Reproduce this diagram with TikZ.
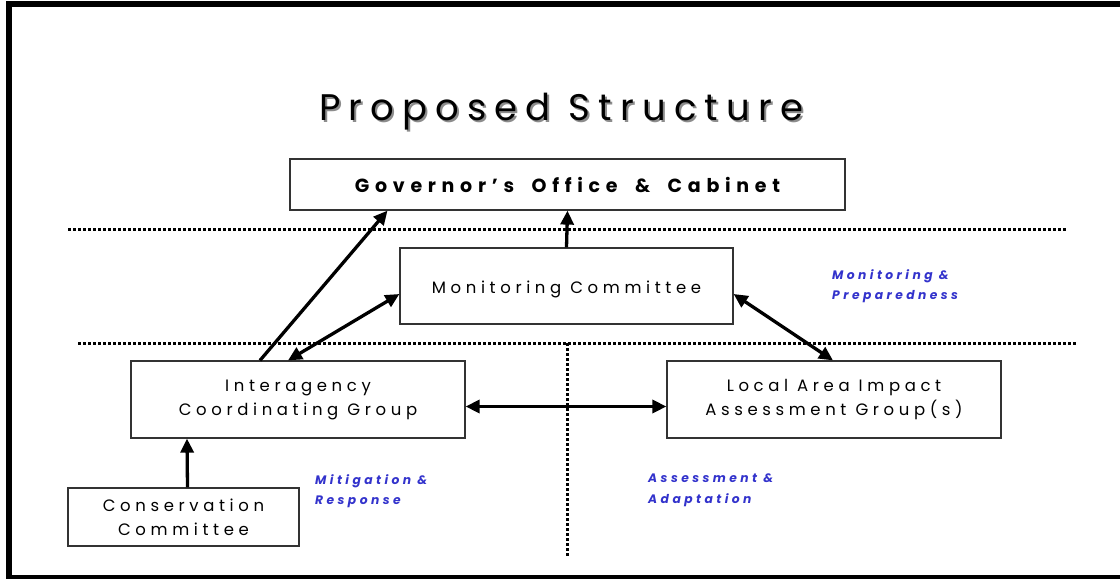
\documentclass[tikz,border=0pt]{standalone}
\usepackage{fontspec}
\setmainfont{Poppins}
\newfontfamily\spacedfont[LetterSpace=28]{Poppins}
\newfontfamily\govfont[LetterSpace=30,WordSpace=1.8]{Poppins}
\newfontfamily\titlefont[LetterSpace=22]{Poppins}
\usetikzlibrary{arrows.meta}
\definecolor{lblblue}{RGB}{51,51,204}
\tikzset{
  box/.style={draw=black!80, line width=1.2pt, fill=white, align=center, inner sep=0pt,
    font=\spacedfont\fontsize{16.5}{24}\selectfont},
  conn/.style={line width=3.3pt, -{Triangle[length=14pt,width=13pt]}},
  dconn/.style={line width=3.3pt, {Triangle[length=14pt,width=13pt]}-{Triangle[length=14pt,width=13pt]}},
  dotline/.style={line width=3pt, dash pattern=on 3pt off 2pt},
  lbl/.style={text=lblblue, anchor=north west, align=left, inner sep=0pt,
    font=\spacedfont\bfseries\itshape\fontsize{12.3}{20.5}\selectfont}
}
\begin{document}
\begin{tikzpicture}[x=1pt,y=-1pt]
\useasboundingbox (0,0) rectangle (1120,579);
% frame
\fill (6,1) rectangle (1120,6.5);
\fill (6,1) rectangle (11.5,579);
\fill (6,575) rectangle (1120,579);
% title
\node[text=black!45, font=\titlefont\fontsize{37}{44}\selectfont] (titlesh) at (563,114) {Proposed Structure};
\node[font=\titlefont\fontsize{37}{44}\selectfont] (title) at (561,112) {Proposed Structure};
% dotted lines
\coordinate (d1a) at (68,229); \coordinate (d1b) at (1066,229);
\coordinate (d2a) at (78,343); \coordinate (d2b) at (1076,343);
\coordinate (v1a) at (567,343); \coordinate (v1b) at (567,557);
\draw[dotline] (d1a) -- (d1b);
\draw[dotline] (d2a) -- (d2b);
\draw[dotline] (v1a) -- (v1b);
% boxes
\node[box, minimum width=555, minimum height=51, font=\govfont\bfseries\fontsize{19}{23}\selectfont] (gov) at (567.5,184.5) {Governor’s Office \& Cabinet};
\node[box, minimum width=333, minimum height=76] (mon) at (566.5,286) {\rule{0pt}{19pt}Monitoring Committee};
\node[box, minimum width=334, minimum height=77] (inter) at (298,399.5) {Interagency\\Coordinating Group};
\node[box, minimum width=334, minimum height=77] (local) at (834,399.5) {Local Area Impact\\Assessment Group(s)};
\node[box, minimum width=231, minimum height=58] (cons) at (183.5,517) {Conservation\\Committee};
% labels
\node[lbl] (lmon) at (832,269) {Monitoring \&\\Preparedness};
\node[lbl] (lmit) at (315,474) {Mitigation \&\\Response};
\node[lbl] (lass) at (648,474) {Assessment \&\\Adaptation};
% connectors
\draw[conn] (mon.north) -- (gov.south);
\draw[conn] ([xshift=-38pt]inter.north) -- ([xshift=-180pt]gov.south);
\draw[dconn] ([xshift=-10pt]inter.north) -- ([yshift=-8pt]mon.west);
\draw[dconn] ([yshift=-8pt]mon.east) -- ([xshift=-1pt]local.north);
\draw[dconn] ([yshift=-7pt]inter.east) -- ([yshift=-7pt]local.west);
\draw[conn] ([xshift=4pt]cons.north) -- ([xshift=-111pt]inter.south);
\end{tikzpicture}
\end{document}
